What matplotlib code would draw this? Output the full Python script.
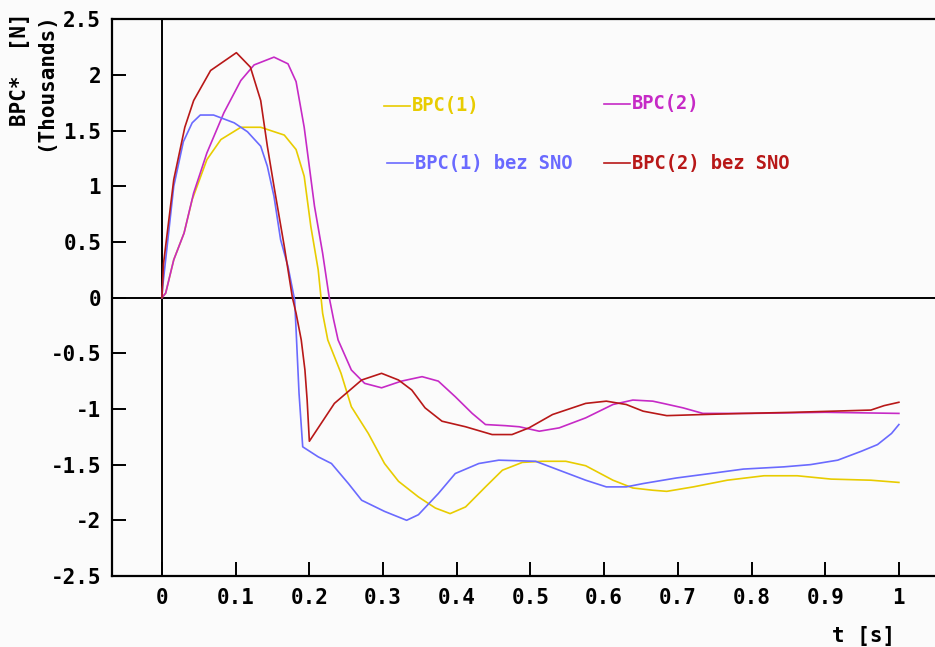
import matplotlib
matplotlib.use("Agg")
import matplotlib.pyplot as plt

# Time samples (s) and force values (thousands of N) for each series
t_bpc1 = [0, 0.005, 0.016, 0.03, 0.041, 0.061, 0.080, 0.107, 0.134, 0.166, 0.182,
          0.193, 0.202, 0.212, 0.218, 0.225, 0.243, 0.257, 0.28, 0.302, 0.321,
          0.348, 0.371, 0.391, 0.412, 0.439, 0.462, 0.489, 0.516, 0.548, 0.575,
          0.612, 0.639, 0.666, 0.685, 0.721, 0.767, 0.817, 0.862, 0.908, 0.962, 1.0]
bpc1 = [0, 0.04, 0.34, 0.58, 0.88, 1.24, 1.42, 1.53, 1.53, 1.46, 1.33,
        1.09, 0.64, 0.25, -0.14, -0.38, -0.68, -0.98, -1.22, -1.49, -1.65,
        -1.79, -1.89, -1.94, -1.88, -1.70, -1.55, -1.48, -1.47, -1.47, -1.51,
        -1.64, -1.71, -1.73, -1.74, -1.70, -1.64, -1.60, -1.60, -1.63, -1.64, -1.66]

t_bpc2 = [0, 0.005, 0.016, 0.03, 0.043, 0.061, 0.084, 0.107, 0.125, 0.152, 0.171,
          0.182, 0.193, 0.207, 0.218, 0.227, 0.233, 0.239, 0.257, 0.275, 0.298,
          0.325, 0.353, 0.375, 0.398, 0.421, 0.439, 0.466, 0.485, 0.512, 0.539,
          0.575, 0.612, 0.639, 0.666, 0.680, 0.707, 0.734, 0.80, 0.90, 1.0]
bpc2 = [0, 0.04, 0.34, 0.58, 0.94, 1.30, 1.66, 1.95, 2.09, 2.16, 2.10,
        1.94, 1.53, 0.82, 0.40, 0.0, -0.2, -0.38, -0.65, -0.77, -0.81,
        -0.75, -0.71, -0.75, -0.89, -1.04, -1.14, -1.15, -1.16, -1.20, -1.17,
        -1.08, -0.96, -0.92, -0.93, -0.95, -0.99, -1.04, -1.04, -1.03, -1.04]

t_bpc1_bez = [0, 0.001, 0.016, 0.029, 0.041, 0.052, 0.070, 0.098, 0.116, 0.134, 0.143,
              0.152, 0.161, 0.171, 0.18, 0.182, 0.186, 0.191, 0.212, 0.230, 0.253,
              0.271, 0.302, 0.332, 0.348, 0.375, 0.398, 0.430, 0.457, 0.507, 0.539,
              0.575, 0.603, 0.630, 0.653, 0.698, 0.744, 0.789, 0.844, 0.880, 0.917,
              0.949, 0.971, 0.99, 1.0]
bpc1_bez = [0, 0.1, 1.0, 1.40, 1.57, 1.64, 1.64, 1.57, 1.49, 1.36, 1.18,
            0.91, 0.52, 0.28, -0.02, -0.29, -0.86, -1.34, -1.43, -1.49, -1.67,
            -1.82, -1.92, -2.0, -1.95, -1.76, -1.58, -1.49, -1.46, -1.47, -1.55,
            -1.64, -1.70, -1.70, -1.67, -1.62, -1.58, -1.54, -1.52, -1.50, -1.46,
            -1.38, -1.32, -1.22, -1.14]

t_bpc2_bez = [0, 0.002, 0.016, 0.031, 0.043, 0.066, 0.101, 0.12, 0.134, 0.143, 0.152,
              0.166, 0.177, 0.182, 0.189, 0.194, 0.197, 0.200, 0.234, 0.271, 0.298,
              0.321, 0.339, 0.357, 0.380, 0.412, 0.448, 0.475, 0.498, 0.53, 0.575,
              0.603, 0.630, 0.653, 0.685, 0.734, 0.789, 0.858, 0.962, 0.98, 1.0]
bpc2_bez = [0, 0.3, 1.06, 1.53, 1.77, 2.04, 2.20, 2.07, 1.77, 1.36, 1.0,
            0.46, 0.0, -0.14, -0.38, -0.65, -0.92, -1.29, -0.95, -0.74, -0.68,
            -0.74, -0.83, -0.99, -1.11, -1.16, -1.23, -1.23, -1.17, -1.05, -0.95,
            -0.93, -0.96, -1.02, -1.06, -1.05, -1.04, -1.03, -1.01, -0.97, -0.94]

x_ticks = [0, 0.1, 0.2, 0.3, 0.4, 0.5, 0.6, 0.7, 0.8, 0.9, 1]
x_tick_labels = ["0", "0.1", "0.2", "0.3", "0.4", "0.5", "0.6", "0.7", "0.8", "0.9", "1"]
y_ticks = [2.5, 2, 1.5, 1, 0.5, 0, -0.5, -1, -1.5, -2, -2.5]
y_tick_labels = ["2.5", "2", "1.5", "1", "0.5", "0", "-0.5", "-1", "-1.5", "-2", "-2.5"]

series_labels = ["BPC(1)", "BPC(2)", "BPC(1) bez SNO", "BPC(2) bez SNO"]
colors = ["#e8cc00", "#c62ac6", "#6a6aff", "#b81818"]

FONT = "DejaVu Sans Mono"
BG = "#fbfbfb"

fig = plt.figure(figsize=(9.35, 6.47), dpi=100, facecolor=BG)
ax = fig.add_axes([0.1201, 0.1098, 0.8799, 0.8604], facecolor=BG)

series = [(t_bpc1, bpc1), (t_bpc2, bpc2), (t_bpc1_bez, bpc1_bez), (t_bpc2_bez, bpc2_bez)]
for idx, (t, v) in enumerate(series):
    ax.plot(t, v, color=colors[idx], lw=1.2, zorder=3 + idx)

ax.axhline(0, color="black", lw=1.4, zorder=2)
ax.axvline(0, color="black", lw=1.4, zorder=2)

ax.set_xlim(-0.0674, 1.049)
ax.set_ylim(-2.5, 2.5)
ax.set_xticks(x_ticks)
ax.set_xticklabels(x_tick_labels)
ax.set_yticks(y_ticks)
ax.set_yticklabels(y_tick_labels)
ax.tick_params(direction="in", length=10, width=1.4, colors="black", labelsize=15)
ax.tick_params(axis="y", pad=8)
ax.tick_params(axis="x", pad=9)
for lab in ax.get_xticklabels() + ax.get_yticklabels():
    lab.set_fontfamily(FONT)
    lab.set_fontweight("bold")

for side in ["left", "top", "bottom"]:
    ax.spines[side].set_linewidth(1.6)
ax.spines["right"].set_visible(False)

# axis titles
fig.text(20 / 935, 1 - 12 / 647, "BPC*  [N]", rotation=90, ha="center", va="top",
         fontfamily=FONT, fontweight="bold", fontsize=15)
fig.text(45 / 935, 1 - 12 / 647, "(Thousands)", rotation=90, ha="center", va="top",
         fontfamily=FONT, fontweight="bold", fontsize=15)
fig.text(895 / 935, 1 - 636 / 647, "t [s]", ha="right", va="center",
         fontfamily=FONT, fontweight="bold", fontsize=15)

# legend entries: short line sample followed by coloured text
legend_pos = [(384, 106), (604, 104), (387, 163), (604, 163)]
for (px, py), lab, col in zip(legend_pos, series_labels, colors):
    fig.add_artist(plt.Line2D([px / 935, (px + 26) / 935],
                              [1 - py / 647, 1 - py / 647],
                              color=col, lw=1.2, transform=fig.transFigure))
    fig.text((px + 28) / 935, 1 - py / 647, lab, color=col, ha="left", va="center",
             fontfamily=FONT, fontweight="bold", fontsize=13.5)

fig.savefig("out.png", dpi=100, facecolor=BG)
